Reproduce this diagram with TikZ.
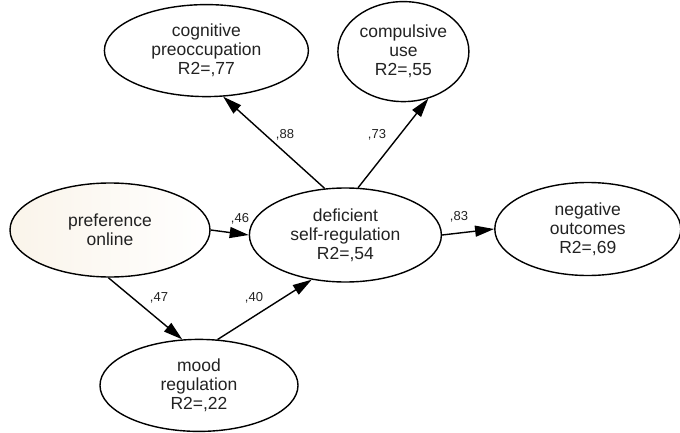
\documentclass[tikz,border=0pt]{standalone}
\usepackage{fontspec}
\setmainfont{Liberation Sans}
\usepackage{tikz}
\usetikzlibrary{positioning}
\usetikzlibrary{arrows.meta,shapes.geometric}

\definecolor{cream}{RGB}{250,244,234}
\definecolor{ink}{RGB}{34,34,34}

\tikzset{
	latent/.style={ellipse, draw, line width=1.4pt, align=center, inner sep=0pt,
		text=ink, font=\fontsize{17.5}{19}\selectfont},
	path/.style={draw, line width=1.4pt, -{Triangle[length=19pt,width=11pt]}},
	coef/.style={text=ink, font=\fontsize{13}{14}\selectfont, inner sep=0pt}
}

\begin{document}
\begin{tikzpicture}[x=1pt,y=1pt]
		\useasboundingbox (0,0) rectangle (680,432);
		\node[latent, minimum width=200pt, minimum height=94pt, left color=cream, right color=white] (pref) at (110,202) {preference\\online};
		\node[latent, minimum width=192pt, minimum height=94pt, right=38pt of pref, yshift=-5pt] (def) {deficient\\self-regulation\\R2=,54};
		\node[latent, minimum width=186pt, minimum height=93pt, right=52pt of def, yshift=6pt] (neg) {negative\\outcomes\\R2=,69};
		\node[latent, minimum width=204pt, minimum height=92pt, above=90pt of def, xshift=-139pt] (cog) {cognitive\\preoccupation\\R2=,77};
		\node[latent, minimum width=131pt, minimum height=100pt, above=85pt of def, xshift=58pt] (comp) {compulsive\\use\\R2=,55};
		\node[latent, minimum width=198pt, minimum height=92pt, below=61pt of pref, xshift=89pt] (mood) {mood\\regulation\\R2=,22};
		% paths
		\path[path] (pref.east) -- (def.west);
		\path[path] (def.east) -- (neg.west);
		\path[path] (def.114) -- (cog.-70);
		\path[path] (def.75) -- (comp.-62);
		\path[path] (pref.-92) -- (mood.110);
		\path[path] (mood.68) -- (def.233);
		% coefficients
		\node[coef] (c46) at (240,213) {,46};
		\node[coef] (c83) at (459,215) {,83};
		\node[coef] (c88) at (285,297) {,88};
		\node[coef] (c73) at (377,297) {,73};
		\node[coef] (c47) at (159,134) {,47};
		\node[coef] (c40) at (254,134) {,40};
	\end{tikzpicture}
\end{document}
